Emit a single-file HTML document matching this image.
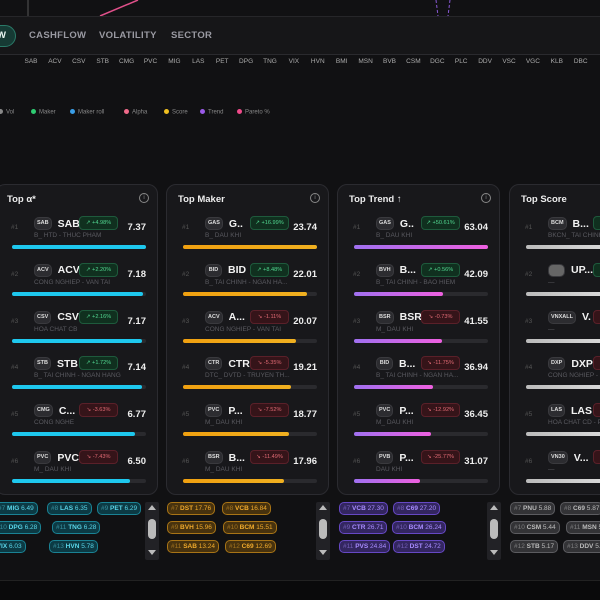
<!DOCTYPE html>
<html><head><meta charset="utf-8">
<style>
*{box-sizing:border-box;margin:0;padding:0}
html,body{width:600px;height:600px;overflow:hidden}
body{background:#111113;font-family:"Liberation Sans",sans-serif;position:relative;color:#ddd}
.abs{position:absolute}
.tab{position:absolute;top:29px;font-size:9.5px;font-weight:bold;color:#9a9aa2;letter-spacing:.3px}
.tick{position:absolute;top:58px;font-size:6.5px;color:#aaa;transform:translateX(-50%)}
.leg{position:absolute;top:109px;font-size:6px;color:#888;white-space:nowrap}
.leg i{display:inline-block;width:5px;height:5px;border-radius:50%;margin-right:3px;vertical-align:-0.5px}
.card{position:absolute;top:184px;width:163px;height:311px;background:#18181b;border:1px solid #2b2b30;border-radius:10px;overflow:hidden}
.title{position:absolute;top:9px;left:11px;font-size:9.5px;font-weight:bold;color:#eee}
.info{position:absolute;top:8px;left:143px;width:10px;height:10px;border:1px solid #888;border-radius:50%;font-size:6px;color:#888;text-align:center;line-height:8px}
.chip{position:absolute;height:13px;border-radius:5px;font-size:6.5px;line-height:11px;padding:0 3px;white-space:nowrap;border:1px solid}
.sb{position:absolute;width:14px;height:58px;top:502px;background:#222226;border-radius:2px}
.nm{position:absolute;left:38px;display:flex;align-items:center;white-space:nowrap}
.tk{height:13px;min-width:17px;padding:0 2px;border-radius:5px;background:#2c2c30;border:1px solid #3a3a3e;font-size:5.5px;font-weight:bold;color:#ddd;line-height:11px;text-align:center}
.nn{margin-left:6px;font-size:10.5px;font-weight:bold;color:#f2f2f2;max-width:24px;overflow:hidden}
</style></head><body>
<div class="abs" style="left:0;top:0;width:600px;height:16px;background:#111113">
<svg width="600" height="16" class="abs" style="left:0;top:0">
<line x1="28" y1="0" x2="28" y2="16" stroke="#555" stroke-width="1"/>
<line x1="100" y1="16" x2="138" y2="0" stroke="#e0508a" stroke-width="1.5"/>
<line x1="436" y1="0" x2="438" y2="16" stroke="#8a5ad8" stroke-width="1" stroke-dasharray="3,2"/>
<line x1="450" y1="0" x2="448" y2="16" stroke="#8a5ad8" stroke-width="1" stroke-dasharray="3,2"/>
</svg></div>
<div class="abs" style="left:0;top:16px;width:600px;height:39px;background:#161618;border-top:1px solid #262629;border-bottom:1px solid #2a2a2e">
<div class="abs" style="left:-20px;top:8px;width:36px;height:22px;border-radius:11px;background:#163a34;border:1px solid #2a7a68;color:#e8f5f0;font-size:9.5px;font-weight:bold;line-height:20px;text-align:right;padding-right:9px">W</div>
<div class="tab" style="left:29px;top:13px">CASHFLOW</div>
<div class="tab" style="left:99px;top:13px">VOLATILITY</div>
<div class="tab" style="left:171px;top:13px">SECTOR</div>
</div>
<div id="ticks"></div>
<div id="legend"></div>
<div id="cards"></div>
<div class="abs" style="left:0;top:580px;width:600px;height:20px;background:#0a0a0b;border-top:1px solid #222"></div>
<script>
const tickLabels=["SAB","ACV","CSV","STB","CMG","PVC","MIG","LAS","PET","DPG","TNG","VIX","HVN","BMI","MSN","BVB","CSM","DGC","PLC","DDV","VSC","VGC","KLB","DBC"];
const legendNames=["Vol","Maker","Maker roll","Alpha","Score","Trend","Pareto %"];
const legendColors=["#888","#2ecc71","#3a9ee8","#f06a8a","#f0c020","#9a5ae8","#f04a8a"];
const legendX=[-2,31,70,124,164,200,237];
const cardTitles=["Top α*","Top Maker","Top Trend ↑","Top Score"];
const cardX=[-5,166,337,509];
const tickers=[["SAB","ACV","CSV","STB","CMG","PVC"],["GAS","BID","ACV","CTR","PVC","BSR"],["GAS","BVH","BSR","BID","PVC","PVB"],["BCM","","VNXALL","DXP","LAS","VN30"]];
const names=[["SAB","ACV","CSV","STB","C...","PVC"],["G..","BID","A...","CTR","P...","B..."],["G..","B...","BSR","B...","P...","P..."],["B...","UP...","V.","DXP","LAS","V..."]];
const sectors=[["B_ HTD - THUC PHAM","CONG NGHIEP - VAN TAI","HOA CHAT CB","B_ TAI CHINH - NGAN HANG","CONG NGHE","M_ DAU KHI"],["B_ DAU KHI","B_ TAI CHINH - NGAN HA...","CONG NGHIEP - VAN TAI","DTC_ DVTD - TRUYEN TH...","M_ DAU KHI","M_ DAU KHI"],["B_ DAU KHI","B_ TAI CHINH - BAO HIEM","M_ DAU KHI","B_ TAI CHINH - NGAN HA...","M_ DAU KHI","DAU KHI"],["BKCN_ TAI CHINH","—","—","CONG NGHIEP - VAN TAI","HOA CHAT CD - P","—"]];
const changes=[[4.98,2.20,2.16,1.72,-3.63,-7.43],[16.99,8.48,-1.11,-5.35,-7.52,-11.49],[50.61,0.56,-0.73,-11.75,-12.92,-25.77],[3.1,2.0,-1.0,-1.5,-2.0,-2.5]];
const values=[[7.37,7.18,7.17,7.14,6.77,6.50],[23.74,22.01,20.07,19.21,18.77,17.96],[63.04,42.09,41.55,36.94,36.45,31.07],[8.0,7.9,7.9,7.9,7.9,7.9]];
const barColors=["#1ec8ee","linear-gradient(90deg,#f0a010,#f0b020)","linear-gradient(90deg,#a070f0,#ee60e0)","linear-gradient(90deg,#bbb,#eee)"];
const chipLabels=[[["#7 MIG 6.49","#8 LAS 6.35","#9 PET 6.29"],["#10 DPG 6.28","#11 TNG 6.28"],["#12 VIX 6.03","#13 HVN 5.78"]],
[["#7 DST 17.76","#8 VCB 16.84"],["#9 BVH 15.96","#10 BCM 15.51"],["#11 SAB 13.24","#12 C69 12.69"]],
[["#7 VCB 27.30","#8 C69 27.20"],["#9 CTR 26.71","#10 BCM 26.24"],["#11 PVS 24.84","#12 DST 24.72"]],
[["#7 PNU 5.88","#8 C69 5.87"],["#10 CSM 5.44","#11 MSN 5.40"],["#12 STB 5.17","#13 DDV 5.10"]]];
const chipStart=[[[-6,47,97],[-8,52],[-20,49]],[[167,222],[167,223],[167,225]],[[339,393],[339,392],[339,393]],[[510,560],[510,566],[510,563]]];
const chipStyle=[["#0c3a44","#1a8294","#5ad6ea"],["#47320e","#a87416","#f0aa2c"],["#332660","#6648c4","#a88cff"],["#333336","#5c5c60","#bbb"]];

function xTick(i){return 31+i*23.9;}
const T=document.getElementById('ticks');
tickLabels.forEach((t,i)=>{const d=document.createElement('div');d.className='tick';d.style.left=xTick(i)+'px';d.textContent=t;


T.appendChild(d);});
const L=document.getElementById('legend');
legendNames.forEach((n,i)=>{const d=document.createElement('div');d.className='leg';d.style.left=legendX[i]+'px';d.innerHTML='<i style="background:'+legendColors[i]+'"></i>'+n;


L.appendChild(d);});

const C=document.getElementById('cards');
function rowY(i){return 227+i*46.8;}
function barW(c,v){const m=Math.max(...values[c]);return 134*v/m;}
cardTitles.forEach((t,c)=>{
 const card=document.createElement('div');card.className='card';card.style.left=cardX[c]+'px';
 
 
 card.innerHTML='<div class="title">'+t+'</div><div class="info">i</div>';
 C.appendChild(card);
 for(let i=0;i<6;i++){
  const y=rowY(i)-184, ch=changes[c][i], up=ch>=0;
  const r=document.createElement('div');r.className='abs';r.style.cssText='left:0;top:0;width:163px;height:311px;';
  
  
  let chipTxt=tickers[c][i];
  r.innerHTML=
  '<div class="abs" style="left:15px;top:'+(y-4)+'px;font-size:6.5px;color:#555">#'+(i+1)+'</div>'+
  '<div class="nm" style="top:'+(y-11)+'px"><div class="tk"'+(chipTxt?'':' style="background:#666;width:17px"')+'>'+chipTxt+'</div><div class="nn">'+names[c][i]+'</div></div>'+
  '<div class="abs" style="left:83px;top:'+(y-12)+'px;width:39px;height:14px;border-radius:4px;background:'+(up?'#10301f':'#351419')+';border:1px solid '+(up?'#1e5a3c':'#5a2029')+';font-size:5.6px;color:'+(up?'#52d690':'#e06a74')+';line-height:12px;text-align:center;white-space:nowrap">'+(up?'↗ +':'↘ ')+ch.toFixed(2)+'%</div>'+
  '<div class="abs" style="left:38px;top:'+(y+4)+'px;font-size:6.5px;color:#5a5a60;white-space:nowrap">'+sectors[c][i]+'</div>'+
  '<div class="abs" style="left:110px;width:40px;text-align:right;top:'+(y-6)+'px;font-size:9.5px;font-weight:bold;color:#eee">'+values[c][i].toFixed(2)+'</div>'+
  '<div class="abs" style="left:16px;top:'+(y+17)+'px;width:134px;height:4px;border-radius:2px;background:#2a2a2e"></div>'+
  '<div class="abs" style="left:16px;top:'+(y+17)+'px;width:'+barW(c,values[c][i])+'px;height:4px;border-radius:2px;background:'+barColors[c]+'"></div>';
  card.appendChild(r);
 }
 chipLabels[c].forEach((row,ri)=>row.forEach((lab,k)=>{
  const d=document.createElement('div');d.className='chip';
  d.style.left=chipStart[c][ri][k]+'px';d.style.top=(502+ri*19)+'px';
  d.style.background=chipStyle[c][0];d.style.borderColor=chipStyle[c][1];d.style.color=chipStyle[c][2];
  const p=lab.split(' ');
  d.innerHTML='<span style="opacity:.55">'+p[0]+'</span> <b>'+p[1]+'</b> '+p[2];
  
  
  C.appendChild(d);
 }));
 if(c<3){const s=document.createElement('div');s.className='sb';s.style.left=(cardX[c]+150)+'px';
  s.innerHTML='<div class="abs" style="left:3px;top:3px;width:0;height:0;border-left:4px solid transparent;border-right:4px solid transparent;border-bottom:5px solid #bbb"></div><div class="abs" style="left:3px;top:17px;width:8px;height:20px;border-radius:4px;background:#bbb"></div><div class="abs" style="left:3px;top:48px;width:0;height:0;border-left:4px solid transparent;border-right:4px solid transparent;border-top:5px solid #bbb"></div>';
  
  
  C.appendChild(s);}
});
</script>
</body></html>
